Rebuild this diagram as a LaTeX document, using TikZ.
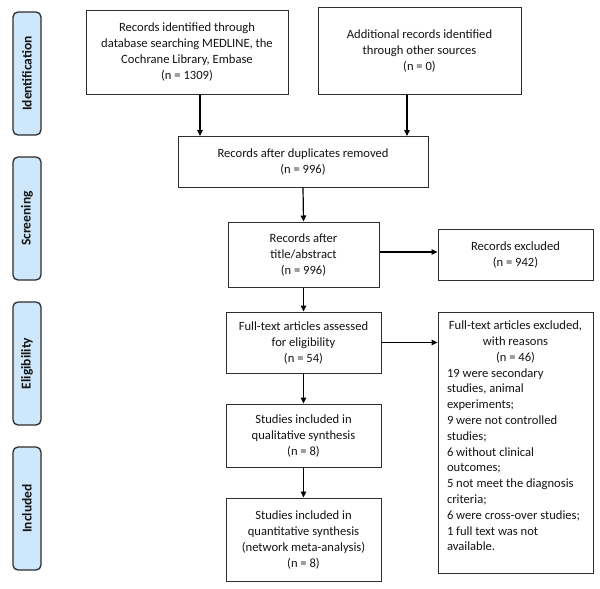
\documentclass[tikz,border=0pt]{standalone}
\usepackage{fontspec}
\setmainfont{Carlito}
\usetikzlibrary{arrows.meta}
\definecolor{sidefill}{RGB}{207,231,251}
\definecolor{edgec}{RGB}{45,45,45}
\definecolor{txt}{RGB}{20,20,20}
\newcommand\ctrline[1]{\makebox[\linewidth][c]{#1}}
\begin{document}
\begin{tikzpicture}[x=1pt,y=-1pt,
  box/.style={draw=edgec, line width=1pt, fill=white, align=center, text=txt,
    font=\fontsize{12.6}{16}\selectfont, inner sep=0pt},
  side/.style={draw=edgec, line width=1.3pt, fill=sidefill, rounded corners=5pt,
    minimum width=123pt, minimum height=28pt, inner sep=0pt, rotate=90,
    font=\bfseries\fontsize{13.5}{16}\selectfont, text=txt},
  arr/.style={line width=1.2pt, draw=black, -{Triangle[length=6pt,width=5.5pt]}}]
\fill[white] (0,0) rectangle (600,589);
\useasboundingbox (0,0) rectangle (600,589);

% side labels
\node[side] (s1) at (27,73.5) {Identification};
\node[side] (s2) at (27,218.5) {Screening};
\node[side] (s3) at (27,363.5) {Eligibility};
\node[side] (s4) at (27,508.5) {Included};

% boxes
\node[box, minimum width=202pt, minimum height=84pt] (b1) at (187,52)
  {Records identified through\\database searching MEDLINE, the\\Cochrane Library, Embase\\(n = 1309)};
\node[box, minimum width=203pt, minimum height=87pt] (b2) at (419.5,50.5)
  {Additional records identified\\through other sources\\(n = 0)};
\node[box, minimum width=250pt, minimum height=51pt] (b3) at (303,161.5)
  {Records after duplicates removed\\(n = 996)};
\node[box, minimum width=151pt, minimum height=65pt] (b4) at (303.5,254.5)
  {Records after\\title/abstract\\(n = 996)};
\node[box, minimum width=155pt, minimum height=51pt] (b5) at (515.5,254.5)
  {Records excluded\\(n = 942)};
\node[box, minimum width=155pt, minimum height=61pt] (b6) at (303.5,342.5)
  {Full-text articles assessed\\for eligibility\\(n = 54)};
\node[box, minimum width=155pt, minimum height=63pt] (b7) at (303.5,435.5)
  {Studies included in\\qualitative synthesis\\(n = 8)};
\node[box, minimum width=155pt, minimum height=83pt] (b8) at (303.5,539.5)
  {Studies included in\\quantitative synthesis\\(network meta-analysis)\\(n = 8)};
\node[box, inner xsep=9pt, inner ysep=9pt, align=left] (b9) at (515.5,442.5)
  {\begin{minipage}[c][243pt][t]{137pt}\fontsize{12.6}{15.8}\selectfont\raggedright
   \ctrline{Full-text articles excluded,}\\\ctrline{with reasons}\\\ctrline{(n = 46)}\\
   19 were secondary\\studies, animal\\experiments;\\9 were not controlled\\studies;\\6 without clinical\\outcomes;\\5 not meet the diagnosis\\criteria;\\6 were cross-over studies;\\1 full text was not\\available.
   \end{minipage}};

% connectors
\coordinate (c1) at (200,136);
\coordinate (c2) at (407,136);
\draw[arr] (b1.south -| c1) -- (c1);
\draw[arr] (b2.south -| c2) -- (c2);
\draw[arr] (b3.south) -- (b4.north);
\draw[arr] ([yshift=2.5pt]b4.east) -- ([yshift=2.5pt]b4.east -| b5.west);
\draw[arr] (b4.south) -- (b6.north);
\draw[arr] (b6.east) -- (b6.east -| b9.west);
\draw[arr] (b6.south) -- (b7.north);
\draw[arr] (b7.south) -- (b8.north);
\end{tikzpicture}
\end{document}
